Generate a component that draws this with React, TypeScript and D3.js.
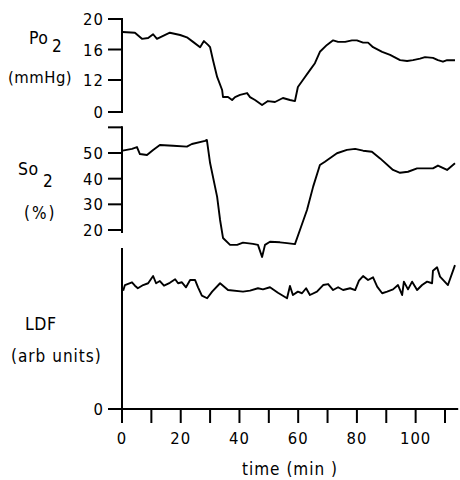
import React from "react";
import * as d3 from "d3";

const po2Time = [0.2,4.4,6.8,8.9,10.6,11.9,14.0,16.3,19.8,22.1,24.2,26.6,27.9,29.3,30.0,31.0,32.4,34.1,34.4,36.1,37.5,38.5,40.2,42.6,43.6,45.3,47.7,49.7,52.1,54.8,57.2,58.9,59.9,61.6,64.0,65.7,67.4,69.8,71.9,73.6,76.0,78.3,80.0,82.1,83.8,85.5,88.6,91.3,94.7,97.1,99.1,101.5,103.2,105.9,107.6,109.3,110.7,113.4];
const po2Val = [18.3,18.2,17.4,17.5,18.0,17.4,17.8,18.2,17.9,17.6,17.0,16.3,17.1,16.6,16.3,14.6,12.4,8.25,5.6,5.6,4.5,5.6,6.4,7.1,5.6,4.5,2.6,4.1,3.75,5.25,4.5,4.1,9.4,12.0,13.3,14.2,15.7,16.6,17.2,17.0,17.0,17.2,17.2,16.9,16.9,16.3,15.7,15.3,14.6,14.5,14.6,14.8,15.0,14.9,14.6,14.4,14.6,14.6];

const so2Time = [0.2,3.4,5.1,6.1,8.5,10.6,12.9,17.4,22.1,23.8,28.3,28.9,30.0,32.4,33.4,34.4,36.8,39.2,41.2,44.6,46.3,47.7,48.7,50.4,53.8,56.2,58.9,60.6,63.0,65.1,67.4,69.1,73.2,76.6,79.4,82.1,85.1,87.9,92.3,94.7,97.4,100.5,105.9,107.6,110.7,113.4];
const so2Val = [50.9,51.6,52.3,49.6,49.2,51.2,53.1,52.8,52.5,53.5,54.7,55.1,46.1,32.9,23.9,16.9,14.2,14.2,15.1,14.6,14.2,9.5,14.2,15.4,15.2,14.9,14.5,20.0,27.8,36.9,45.3,46.6,49.9,51.2,51.6,50.9,50.5,47.9,43.4,42.3,42.7,44.0,44.0,45.1,43.4,46.0];

const ldfTime = [0.4,1.0,3.4,4.4,5.4,7.2,8.9,10.6,11.6,12.9,14.3,16.3,18.1,19.1,20.4,21.8,23.2,24.9,25.9,27.2,29.0,30.7,33.4,36.1,41.2,43.6,46.3,48.0,50.4,53.1,56.2,57.2,58.2,59.9,61.3,62.7,64.0,66.4,68.5,70.2,71.9,73.6,75.3,77.7,79.4,80.7,82.1,83.8,85.5,86.9,88.6,90.3,92.3,94.0,95.4,96.0,97.4,98.8,100.5,102.2,103.9,105.6,105.9,107.3,108.3,111.0,113.4];
const ldfVal = [73.5,77.0,78.7,76.6,75.0,77.0,78.1,82.6,78.1,79.5,76.6,78.4,80.6,78.1,78.7,75.6,80.1,80.1,75.6,70.4,68.8,72.9,78.1,73.9,72.9,73.5,75.0,74.3,75.6,72.2,68.8,76.4,70.8,72.9,71.9,75.0,70.8,72.9,77.0,77.6,73.9,75.6,73.9,75.0,73.9,79.7,82.6,80.1,81.8,76.0,71.9,72.9,74.3,77.0,70.8,79.1,74.3,79.1,73.9,77.0,79.1,78.1,85.9,88.0,82.2,77.0,89.4];

const po2Ticks = [0, 12, 16, 20];
const so2Ticks = [20, 30, 40, 50];
const so2MinorTicks = [60];
const ldfTicks = [0];
const timeTicks = [0,10,20,30,40,50,60,70,80,90,100,110];
const timeLabels = [0,20,40,60,80,100];

const FONT = "'DejaVu Sans Condensed', 'DejaVu Sans', sans-serif";

export default function App() {
  const x = d3.scaleLinear().domain([0, 110]).range([122, 445]);
  const yPo2 = d3.scaleLinear().domain([0, 12, 20]).range([112, 80, 19]);
  const ySo2 = d3.scaleLinear().domain([20, 50]).range([230, 153]);
  const yLdf = d3.scaleLinear().domain([0, 100]).range([409, 248]);

  const mk = (t: number[], v: number[], y: d3.ScaleLinear<number, number>) =>
    d3.line<number>().x((_, i) => x(t[i])).y((d) => y(d))(v) || "";

  const axisX = x(0);
  const tickLen = 14;
  const sw = 2;
  const lw = 1.9;

  const yTicks = (ticks: number[], y: d3.ScaleLinear<number, number>, labels: boolean) =>
    ticks.map((t) => (
      <g key={"t" + t}>
        <line x1={axisX - tickLen} x2={axisX} y1={y(t)} y2={y(t)} stroke="#000" strokeWidth={sw} />
        {labels && (
          <text x={axisX - tickLen - 4} y={y(t) + 6} textAnchor="end" fontSize={16.5} letterSpacing={1}>
            {t}
          </text>
        )}
      </g>
    ));

  return (
    <svg width={460} height={480} style={{ position: "absolute", left: 0, top: 0, background: "#fff" }} fontFamily={FONT}>
      <rect width={460} height={480} fill="#fff" />
      {/* Po2 panel */}
      <line x1={axisX} x2={axisX} y1={yPo2(20) - 1} y2={yPo2(0) + 1} stroke="#000" strokeWidth={sw} />
      {yTicks(po2Ticks, yPo2, true)}
      <path d={mk(po2Time, po2Val, yPo2)} fill="none" stroke="#000" strokeWidth={lw} strokeLinejoin="round" />
      <text x={29} y={44} fontSize={17.5} letterSpacing={0.5}>Po</text>
      <text x={52} y={52} fontSize={17}>2</text>
      <text x={8} y={83} fontSize={16.5} letterSpacing={0.5}>(mmHg)</text>

      {/* So2 panel */}
      <line x1={axisX} x2={axisX} y1={ySo2(60) - 1} y2={233} stroke="#000" strokeWidth={sw} />
      {yTicks(so2Ticks, ySo2, true)}
      {yTicks(so2MinorTicks, ySo2, false)}
      <path d={mk(so2Time, so2Val, ySo2)} fill="none" stroke="#000" strokeWidth={lw} strokeLinejoin="round" />
      <text x={18} y={175} fontSize={17.5} letterSpacing={0.5}>So</text>
      <text x={43} y={187} fontSize={17}>2</text>
      <text x={24} y={219} fontSize={17} letterSpacing={2}>(%)</text>

      {/* LDF panel */}
      <line x1={axisX} x2={axisX} y1={yLdf(100)} y2={yLdf(0)} stroke="#000" strokeWidth={sw} />
      {yTicks(ldfTicks, yLdf, true)}
      <path d={mk(ldfTime, ldfVal, yLdf)} fill="none" stroke="#000" strokeWidth={lw} strokeLinejoin="round" />
      <text x={25} y={330} fontSize={17.5} letterSpacing={0.5}>LDF</text>
      <text x={11} y={362} fontSize={17} letterSpacing={1}>(arb units)</text>

      {/* time axis */}
      <line x1={axisX} x2={x(114.5)} y1={yLdf(0)} y2={yLdf(0)} stroke="#000" strokeWidth={sw} />
      {timeTicks.map((t) => (
        <line key={"x" + t} x1={x(t)} x2={x(t)} y1={yLdf(0)} y2={yLdf(0) + 14} stroke="#000" strokeWidth={sw} />
      ))}
      {timeLabels.map((t) => (
        <text key={"xl" + t} x={x(t)} y={444} textAnchor="middle" fontSize={16.5} letterSpacing={1}>
          {t}
        </text>
      ))}
      <text x={290} y={475} textAnchor="middle" fontSize={17} letterSpacing={1}>time (min )</text>
    </svg>
  );
}
